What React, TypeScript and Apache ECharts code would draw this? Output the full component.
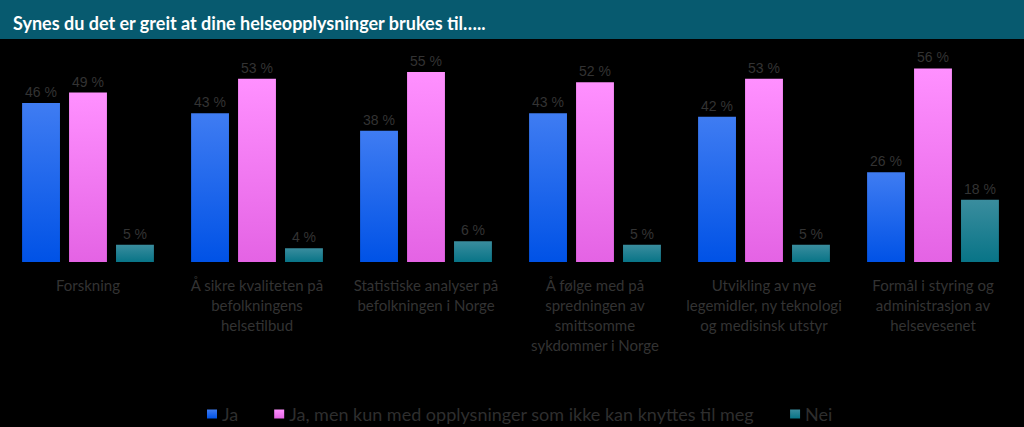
import React, { useEffect, useRef } from "react";
import * as echarts from "echarts";

const categories = [
  "Forskning",
  "Å sikre kvaliteten på\nbefolkningens\nhelsetilbud",
  "Statistiske analyser på\nbefolkningen i Norge",
  "Å følge med på\nspredningen av\nsmittsomme\nsykdommer i Norge",
  "Utvikling av nye\nlegemidler, ny teknologi\nog medisinsk utstyr",
  "Formål i styring og\nadministrasjon av\nhelsevesenet",
];
const seriesNames = ["Ja", "Ja, men kun med opplysninger som ikke kan knyttes til meg", "Nei"];
const jaValues = [46, 43, 38, 43, 42, 26];
const jaMenValues = [49, 53, 55, 52, 53, 56];
const neiValues = [5, 4, 6, 5, 5, 18];

const grad = (top: string, bottom: string) => ({
  type: "linear",
  x: 0,
  y: 0,
  x2: 0,
  y2: 1,
  colorStops: [
    { offset: 0, color: top },
    { offset: 1, color: bottom },
  ],
});

export default function App() {
  const ref = useRef<HTMLDivElement>(null);
  useEffect(() => {
    if (!ref.current) return;
    const chart = echarts.init(ref.current, null, { renderer: "svg" });
    const labelStyle = {
      show: true,
      position: "top",
      distance: 4,
      color: "#333333",
      fontFamily: "Liberation Sans",
      fontSize: 14,
      formatter: (p: any) => `${p.value} %`,
    };
    const colors = [
      grad("#3f7cf2", "#0052e6"),
      grad("#ff90ff", "#e463e4"),
      grad("#3a8d9e", "#087487"),
    ];
    const data = [jaValues, jaMenValues, neiValues];
    chart.setOption({
      animation: false,
      backgroundColor: "#000000",
      graphic: [
        {
          type: "rect",
          shape: { x: 0, y: 0, width: 1024, height: 39 },
          style: { fill: "#075a6f" },
          z: 0,
        },
      ],
      title: {
        text: "Synes du det er greit at dine helseopplysninger brukes til…..",
        left: 8,
        top: 9,
        textStyle: {
          color: "#ffffff",
          fontFamily: "Lato",
          fontWeight: "bold",
          fontSize: 18,
        },
      },
      legend: {
        left: 202,
        top: 400,
        icon: "rect",
        itemWidth: 10,
        itemHeight: 9,
        itemGap: 36,
        textStyle: {
          color: "#2e2e2e",
          fontFamily: "Lato",
          fontSize: 18,
        },
        data: seriesNames,
      },
      grid: { left: 3.5, right: 6.5, top: 54.6, bottom: 165, containLabel: false },
      xAxis: {
        type: "category",
        data: categories,
        axisLine: { show: false },
        axisTick: { show: false },
        axisLabel: {
          color: "#333333",
          fontFamily: "Lato",
          fontSize: 15,
          lineHeight: 20,
          margin: 13,
          interval: 0,
        },
      },
      yAxis: {
        type: "value",
        min: 0,
        max: 60,
        show: false,
        splitLine: { show: false },
      },
      series: data.map((d, i) => ({
        name: seriesNames[i],
        type: "bar",
        data: d,
        barGap: "24%",
        barCategoryGap: "22%",
        itemStyle: { color: colors[i] },
        label: labelStyle,
      })),
    });
    return () => chart.dispose();
  }, []);
  return (
    <div
      ref={ref}
      style={{ position: "absolute", left: 0, top: 0, width: 1024, height: 427, background: "#000" }}
    />
  );
}
